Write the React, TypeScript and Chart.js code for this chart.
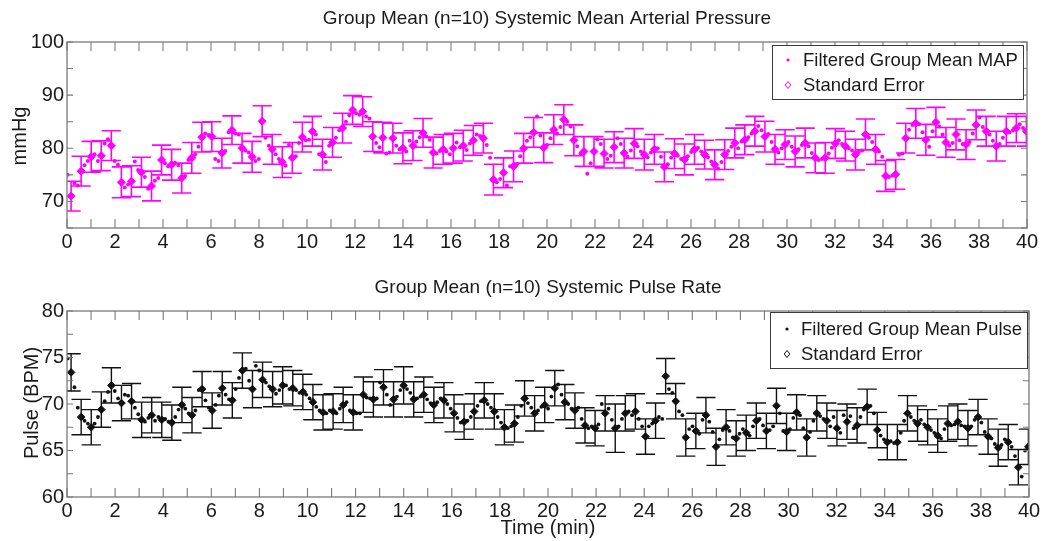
import React, { useEffect, useRef } from "react";
import { Chart, registerables } from "chart.js";

Chart.register(...registerables);

const FONT = '"Liberation Sans", Arial, Helvetica, sans-serif';

// sampling grid of the standard-error samples (minutes)
const SE_T0 = 0.17;
const SE_DT = 0.419;
const DOT_DT = 0.14; // filtered samples on either side of each SE sample
const CAP_HALF = 0.4; // error-bar cap half width (minutes)

const X_MIN = 0;
const X_MAX = 40;
const X_STEP = 1;
const X_LABEL_EVERY = 2;

// ---------- Mean arterial pressure (mmHg) ----------
const mapMean = [
  71.0, 75.7, 78.4, 78.6, 80.5, 73.6, 73.8, 75.5, 72.9, 77.8,
  76.9, 74.4, 78.2, 82.1, 82.2, 79.1, 83.4, 80.0, 78.4, 85.1,
  79.8, 77.4, 78.2, 82.1, 83.2, 78.8, 81.1, 83.8, 87.2, 86.9,
  82.2, 82.0, 81.9, 80.0, 80.5, 82.9, 79.2, 79.8, 80.0, 80.5,
  81.5, 81.9, 74.1, 75.4, 76.6, 80.0, 83.0, 80.1, 83.5, 85.4,
  81.5, 79.4, 79.4, 79.0, 80.2, 79.1, 80.9, 78.8, 79.8, 76.5,
  79.0, 77.9, 79.8, 78.8, 76.9, 78.8, 81.0, 81.6, 83.2, 82.2,
  79.8, 80.7, 79.4, 81.0, 78.2, 78.2, 80.9, 80.4, 78.8, 82.6,
  79.8, 74.8, 75.1, 81.9, 84.7, 81.6, 84.9, 81.1, 82.6, 80.7,
  84.4, 83.2, 80.4, 83.2, 83.8, 83.2,
];
const mapSE = [
  2.8, 2.8, 2.9, 2.8, 2.8, 2.9, 2.9, 2.8, 2.8, 2.8,
  2.9, 2.8, 2.9, 2.8, 2.8, 2.8, 2.7, 2.8, 2.9, 2.9,
  2.8, 2.9, 2.9, 2.8, 2.8, 2.9, 2.8, 2.8, 2.7, 2.8,
  2.8, 2.9, 2.8, 2.9, 2.8, 2.7, 2.9, 2.8, 2.8, 2.9,
  2.8, 2.8, 2.9, 2.8, 2.9, 2.8, 2.8, 2.8, 2.8, 2.8,
  2.9, 2.8, 2.8, 2.7, 2.9, 2.8, 2.8, 2.9, 2.8, 2.8,
  2.8, 2.9, 2.8, 2.7, 2.8, 2.8, 2.8, 2.8, 2.8, 2.9,
  2.8, 2.8, 2.9, 2.8, 2.8, 2.9, 2.8, 2.8, 2.9, 2.9,
  2.8, 2.9, 2.8, 2.8, 2.8, 2.9, 2.8, 2.8, 2.9, 2.8,
  2.8, 2.8, 2.8, 2.8, 2.7, 2.8,
];
const mapDotBefore = [
  75.0, 73.0, 77.6, 77.6, 81.7, 76.9, 73.2, 75.9, 72.4, 74.4,
  76.6, 76.8, 77.8, 80.3, 82.5, 77.6, 83.0, 82.6, 79.2, 78.0,
  80.5, 78.0, 80.6, 81.0, 81.6, 78.9, 80.5, 83.4, 86.2, 86.3,
  85.6, 80.2, 79.2, 79.8, 81.4, 82.1, 81.6, 79.5, 78.9, 80.2,
  80.9, 82.3, 78.2, 74.2, 76.6, 78.5, 82.1, 82.4, 81.9, 84.0,
  84.1, 79.0, 77.2, 80.8, 78.6, 80.8, 79.6, 79.4, 79.2, 78.4,
  78.2, 78.0, 79.3, 79.4, 77.5, 77.4, 80.3, 81.3, 82.8, 83.4,
  81.2, 80.0, 80.3, 80.6, 79.1, 78.0, 80.1, 80.8, 79.6, 79.6,
  81.2, 78.4, 74.9, 79.0, 84.4, 83.0, 83.2, 82.6, 81.0, 80.8,
  82.8, 84.0, 81.4, 82.0, 83.4, 83.8,
];
const mapDotAfter = [
  73.4, 76.8, 78.9, 80.9, 77.6, 72.6, 77.5, 74.6, 73.9, 77.2,
  77.3, 74.8, 78.9, 82.8, 78.0, 79.5, 82.8, 79.6, 77.6, 82.0,
  78.9, 76.7, 78.5, 81.5, 82.6, 77.4, 82.0, 85.0, 86.6, 86.0,
  81.0, 79.0, 80.5, 79.4, 81.3, 82.2, 79.0, 79.4, 81.1, 79.7,
  82.6, 80.6, 73.6, 73.0, 77.0, 81.4, 86.0, 80.6, 82.8, 85.0,
  80.4, 75.2, 81.7, 78.0, 81.9, 78.4, 80.4, 78.3, 80.0, 77.0,
  78.6, 78.5, 80.1, 78.3, 76.2, 79.5, 80.0, 82.1, 84.2, 82.7,
  79.2, 81.2, 79.8, 80.4, 77.8, 79.0, 81.5, 80.0, 79.3, 82.0,
  79.4, 74.6, 78.8, 83.5, 84.5, 80.3, 84.1, 80.5, 81.5, 81.2,
  85.8, 82.6, 80.8, 83.0, 84.5, 82.2,
];

// ---------- Pulse rate (BPM) ----------
const pulseMean = [
  73.4, 68.6, 67.5, 69.4, 72.0, 70.1, 70.3, 68.3, 68.8, 68.3,
  68.0, 69.9, 68.8, 71.6, 69.3, 71.7, 70.4, 73.6, 71.6, 72.6,
  71.6, 72.0, 71.7, 71.3, 70.2, 69.1, 69.2, 69.9, 69.1, 71.0,
  70.5, 71.8, 70.5, 72.0, 70.5, 71.0, 69.9, 70.4, 69.0, 68.1,
  69.2, 70.4, 69.2, 67.5, 67.9, 70.6, 69.0, 69.9, 71.7, 70.2,
  69.3, 67.7, 67.4, 69.0, 67.4, 69.0, 69.2, 66.5, 68.2, 73.0,
  70.3, 66.4, 67.1, 68.8, 65.4, 67.5, 66.3, 66.9, 68.2, 67.1,
  69.8, 67.0, 69.1, 66.4, 69.0, 68.2, 67.4, 68.1, 67.7, 69.7,
  67.2, 65.9, 65.9, 69.0, 67.9, 67.5, 66.6, 67.9, 68.1, 67.4,
  68.6, 66.5, 65.3, 65.9, 63.2, 65.4,
];
const pulseSE = [
  2.0, 1.9, 1.9, 1.9, 1.9, 1.9, 1.9, 1.9, 1.9, 1.9,
  1.9, 1.9, 1.9, 1.9, 1.9, 1.8, 1.9, 1.9, 2.0, 1.9,
  1.9, 2.0, 1.9, 1.9, 1.9, 1.9, 1.9, 1.9, 1.9, 1.9,
  1.9, 1.9, 1.9, 2.0, 1.9, 1.9, 1.9, 1.9, 2.0, 1.9,
  1.9, 1.9, 1.9, 1.9, 2.0, 1.9, 1.9, 1.9, 1.9, 1.9,
  1.9, 1.9, 1.9, 1.9, 2.6, 1.9, 1.9, 1.9, 1.9, 1.9,
  1.9, 2.0, 1.9, 1.9, 2.0, 1.9, 1.9, 1.9, 1.9, 1.9,
  1.9, 2.0, 1.9, 2.0, 1.9, 1.9, 1.9, 1.9, 1.9, 1.9,
  1.9, 1.9, 1.9, 1.9, 1.9, 1.9, 1.8, 1.9, 1.9, 1.9,
  1.9, 1.9, 2.0, 1.9, 1.9, 1.9,
];
const pulseDotBefore = [
  74.9, 69.6, 67.9, 68.6, 71.3, 70.6, 70.9, 68.9, 68.5, 68.6,
  68.1, 69.4, 69.0, 71.5, 69.6, 70.9, 70.5, 72.8, 72.5, 73.6,
  71.9, 71.5, 71.6, 71.2, 70.6, 69.3, 69.3, 69.5, 69.3, 69.0,
  70.6, 72.3, 69.9, 71.5, 71.2, 70.8, 70.1, 70.6, 69.5, 68.0,
  68.6, 70.3, 69.6, 68.0, 67.6, 69.8, 69.6, 69.7, 70.8, 71.0,
  69.5, 68.4, 67.6, 70.0, 68.3, 68.4, 68.8, 67.6, 67.9, 68.4,
  71.2, 68.8, 67.6, 68.3, 67.0, 67.2, 66.4, 67.3, 67.6, 67.7,
  67.6, 67.1, 68.5, 67.4, 68.2, 68.4, 68.6, 68.8, 67.4, 69.4,
  69.0, 66.2, 65.8, 68.2, 68.2, 67.8, 66.9, 67.3, 67.8, 67.6,
  68.3, 67.0, 65.7, 66.2, 64.4, 65.0,
];
const pulseDotAfter = [
  71.8, 68.2, 67.9, 70.3, 71.4, 71.0, 69.6, 68.1, 68.2, 68.4,
  68.6, 69.5, 69.3, 70.4, 69.9, 71.0, 71.6, 73.8, 74.1, 72.3,
  71.1, 72.0, 71.5, 71.0, 69.7, 69.0, 69.0, 70.2, 69.0, 70.7,
  70.6, 71.0, 70.8, 71.6, 70.6, 70.5, 70.2, 70.0, 68.5, 68.2,
  69.8, 70.0, 68.6, 67.4, 68.6, 70.1, 69.3, 69.5, 72.1, 70.0,
  69.6, 67.4, 67.8, 69.5, 67.6, 69.2, 68.4, 67.6, 68.6, 71.6,
  69.2, 67.3, 66.8, 68.1, 66.2, 67.1, 66.8, 66.6, 68.4, 67.2,
  69.0, 67.3, 68.8, 67.0, 68.7, 67.6, 66.9, 68.7, 68.6, 69.8,
  66.6, 66.0, 66.9, 68.6, 68.3, 67.2, 66.3, 67.7, 67.7, 67.6,
  68.0, 66.3, 65.6, 65.4, 62.2, 66.2,
];

const AXIS_COLOR = "#7a7a7a";
const TEXT_COLOR = "#1a1a1a";

type Area = { left: number; top: number; right: number; bottom: number };
type PanelCfg = {
  title: string;
  yTitle: string;
  xTitle?: string;
  legend: [string, string];
  color: string;
  mean: number[];
  se: number[];
  before: number[];
  after: number[];
  yMin: number;
  yMax: number;
  yStep: number;
  yLabelEvery: number;
  yUnlabelled: number[];
  canvasTop: number;
  canvasHeight: number;
  area: Area;
  titlePos: [number, number];
  yTitlePos: [number, number];
  xTitlePos?: [number, number];
  legendBox: [number, number, number, number];
  legendRows: [number, number];
  legendMarkerX: number;
  legendTextX: number;
  dotRadius: number;
  diamondRadius: number;
  errWidth: number;
};

const sampleTime = (k: number) => SE_T0 + SE_DT * k;

function makeDots(mean: number[], before: number[], after: number[]) {
  const pts: { x: number; y: number }[] = [];
  mean.forEach((m, k) => {
    const t = sampleTime(k);
    pts.push({ x: t - DOT_DT, y: before[k] }, { x: t, y: m }, { x: t + DOT_DT, y: after[k] });
  });
  return pts.filter((p) => p.x >= X_MIN && p.x <= X_MAX);
}

function makeDecor(cfg: PanelCfg) {
  return {
    id: "panelDecor",
    beforeDatasetsDraw(chart: any) {
      const { ctx, chartArea: a, scales } = chart;
      const xs = scales.x;
      const ys = scales.y;
      ctx.save();
      ctx.beginPath();
      ctx.rect(a.left, a.top, a.right - a.left, a.bottom - a.top);
      ctx.clip();
      ctx.strokeStyle = cfg.color;
      ctx.lineWidth = cfg.errWidth;
      ctx.beginPath();
      cfg.mean.forEach((m, k) => {
        const t = sampleTime(k);
        const px = xs.getPixelForValue(t);
        const pt = ys.getPixelForValue(m + cfg.se[k]);
        const pb = ys.getPixelForValue(m - cfg.se[k]);
        const cl = xs.getPixelForValue(t - CAP_HALF);
        const cr = xs.getPixelForValue(t + CAP_HALF);
        ctx.moveTo(px, pt);
        ctx.lineTo(px, pb);
        ctx.moveTo(cl, pt);
        ctx.lineTo(cr, pt);
        ctx.moveTo(cl, pb);
        ctx.lineTo(cr, pb);
      });
      ctx.stroke();
      ctx.restore();
    },
    afterDraw(chart: any) {
      const { ctx, chartArea: a, scales } = chart;
      const xs = scales.x;
      const ys = scales.y;
      ctx.save();
      // box
      ctx.strokeStyle = AXIS_COLOR;
      ctx.lineWidth = 1.3;
      ctx.strokeRect(a.left, a.top, a.right - a.left, a.bottom - a.top);
      // inward ticks on all four sides
      ctx.lineWidth = 1.1;
      ctx.beginPath();
      xs.ticks.forEach((tk: any) => {
        const px = xs.getPixelForValue(tk.value);
        ctx.moveTo(px, a.bottom);
        ctx.lineTo(px, a.bottom - 9);
        ctx.moveTo(px, a.top);
        ctx.lineTo(px, a.top + 9);
      });
      ys.ticks.forEach((tk: any) => {
        const py = ys.getPixelForValue(tk.value);
        ctx.moveTo(a.left, py);
        ctx.lineTo(a.left + 6, py);
        ctx.moveTo(a.right, py);
        ctx.lineTo(a.right - 6, py);
      });
      ctx.stroke();

      // titles
      ctx.fillStyle = TEXT_COLOR;
      ctx.textAlign = "center";
      ctx.textBaseline = "middle";
      ctx.font = `19px ${FONT}`;
      ctx.fillText(cfg.title, cfg.titlePos[0], cfg.titlePos[1]);
      ctx.font = `20px ${FONT}`;
      if (cfg.xTitle && cfg.xTitlePos) ctx.fillText(cfg.xTitle, cfg.xTitlePos[0], cfg.xTitlePos[1]);
      ctx.save();
      ctx.translate(cfg.yTitlePos[0], cfg.yTitlePos[1]);
      ctx.rotate(-Math.PI / 2);
      ctx.fillText(cfg.yTitle, 0, 0);
      ctx.restore();

      // legend
      const [lx, ly, lw, lh] = cfg.legendBox;
      ctx.fillStyle = "#ffffff";
      ctx.fillRect(lx, ly, lw, lh);
      ctx.strokeStyle = "#3a3a3a";
      ctx.lineWidth = 1;
      ctx.strokeRect(lx + 0.5, ly + 0.5, lw, lh);
      ctx.fillStyle = cfg.color;
      ctx.beginPath();
      ctx.arc(cfg.legendMarkerX, cfg.legendRows[0], 1.6, 0, Math.PI * 2);
      ctx.fill();
      ctx.strokeStyle = cfg.color;
      ctx.lineWidth = 1;
      const dr = 3.5;
      const my = cfg.legendRows[1];
      ctx.beginPath();
      ctx.moveTo(cfg.legendMarkerX, my - dr);
      ctx.lineTo(cfg.legendMarkerX + dr * 0.8, my);
      ctx.lineTo(cfg.legendMarkerX, my + dr);
      ctx.lineTo(cfg.legendMarkerX - dr * 0.8, my);
      ctx.closePath();
      ctx.stroke();
      ctx.fillStyle = TEXT_COLOR;
      ctx.textAlign = "left";
      ctx.font = `18.5px ${FONT}`;
      ctx.fillText(cfg.legend[0], cfg.legendTextX, cfg.legendRows[0] + 1);
      ctx.fillText(cfg.legend[1], cfg.legendTextX, cfg.legendRows[1] + 1);
      ctx.restore();
    },
  };
}

const panels: PanelCfg[] = [
  {
    title: "Group Mean (n=10) Systemic Mean Arterial Pressure",
    yTitle: "mmHg",
    legend: ["Filtered Group Mean MAP", "Standard Error"],
    color: "#ff00ff",
    mean: mapMean,
    se: mapSE,
    before: mapDotBefore,
    after: mapDotAfter,
    yMin: 65,
    yMax: 100,
    yStep: 5,
    yLabelEvery: 10,
    yUnlabelled: [65],
    canvasTop: 0,
    canvasHeight: 270,
    area: { left: 67, top: 42, right: 1027, bottom: 228 },
    titlePos: [547, 19],
    yTitlePos: [20, 136],
    legendBox: [772, 45, 251, 54],
    legendRows: [60, 85],
    legendMarkerX: 788,
    legendTextX: 803,
    dotRadius: 2.0,
    diamondRadius: 4.0,
    errWidth: 1.6,
  },
  {
    title: "Group Mean (n=10) Systemic Pulse Rate",
    yTitle: "Pulse (BPM)",
    xTitle: "Time (min)",
    legend: ["Filtered Group Mean Pulse", "Standard Error"],
    color: "#111111",
    mean: pulseMean,
    se: pulseSE,
    before: pulseDotBefore,
    after: pulseDotAfter,
    yMin: 60,
    yMax: 80,
    yStep: 2.5,
    yLabelEvery: 5,
    yUnlabelled: [],
    canvasTop: 270,
    canvasHeight: 271,
    area: { left: 67, top: 41, right: 1029, bottom: 227 },
    titlePos: [548, 18],
    yTitlePos: [32, 133],
    xTitlePos: [548, 258],
    legendBox: [770, 42, 257, 56],
    legendRows: [59, 84],
    legendMarkerX: 787,
    legendTextX: 801,
    dotRadius: 1.9,
    diamondRadius: 3.8,
    errWidth: 1.4,
  },
];

function Panel({ cfg }: { cfg: PanelCfg }) {
  const ref = useRef<HTMLCanvasElement | null>(null);
  useEffect(() => {
    if (!ref.current) return;
    const a = cfg.area;
    const W = 1050;
    const dots = makeDots(cfg.mean, cfg.before, cfg.after);
    const diamonds = cfg.mean.map((m, k) => ({ x: sampleTime(k), y: m }));
    const isMult = (v: number, n: number) => Math.abs(v / n - Math.round(v / n)) < 1e-6;
    const chart = new Chart(ref.current, {
      type: "scatter",
      data: {
        datasets: [
          {
            label: cfg.legend[0],
            data: dots,
            pointStyle: "circle",
            pointRadius: cfg.dotRadius,
            pointBorderWidth: 0,
            backgroundColor: cfg.color,
            borderColor: cfg.color,
          },
          {
            label: cfg.legend[1],
            data: diamonds,
            pointStyle: "rectRot",
            pointRadius: cfg.diamondRadius,
            pointBorderWidth: 1,
            backgroundColor: cfg.color,
            borderColor: cfg.color,
          },
        ],
      },
      options: {
        animation: false,
        responsive: false,
        events: [],
        layout: { padding: { left: 0, top: a.top, right: W - a.right, bottom: 0 } },
        plugins: { legend: { display: false }, tooltip: { enabled: false }, title: { display: false } },
        scales: {
          x: {
            type: "linear",
            min: X_MIN,
            max: X_MAX,
            grid: { display: false, drawTicks: false },
            border: { display: false },
            ticks: {
              stepSize: X_STEP,
              maxTicksLimit: 100,
              autoSkip: false,
              maxRotation: 0,
              minRotation: 0,
              padding: 2,
              color: TEXT_COLOR,
              font: { family: FONT, size: 20 },
              callback: (v: any) => (isMult(Number(v), X_LABEL_EVERY) ? String(v) : ""),
            },
            afterFit: (s: any) => {
              s.height = cfg.canvasHeight - a.bottom;
            },
          },
          y: {
            type: "linear",
            min: cfg.yMin,
            max: cfg.yMax,
            grid: { display: false, drawTicks: false },
            border: { display: false },
            ticks: {
              stepSize: cfg.yStep,
              maxTicksLimit: 100,
              autoSkip: false,
              padding: 3,
              color: TEXT_COLOR,
              font: { family: FONT, size: 20 },
              callback: (v: any) =>
                isMult(Number(v), cfg.yLabelEvery) && !cfg.yUnlabelled.includes(Number(v))
                  ? String(v)
                  : "",
            },
            afterFit: (s: any) => {
              s.width = a.left;
            },
          },
        },
      },
      plugins: [makeDecor(cfg)],
    } as any);
    return () => chart.destroy();
  }, [cfg]);
  return (
    <canvas
      ref={ref}
      width={1050}
      height={cfg.canvasHeight}
      style={{ position: "absolute", left: 0, top: cfg.canvasTop, width: 1050, height: cfg.canvasHeight }}
    />
  );
}

export default function App() {
  return (
    <div style={{ position: "fixed", left: 0, top: 0, width: 1050, height: 541, background: "#ffffff" }}>
      {panels.map((p, i) => (
        <Panel key={i} cfg={p} />
      ))}
    </div>
  );
}
